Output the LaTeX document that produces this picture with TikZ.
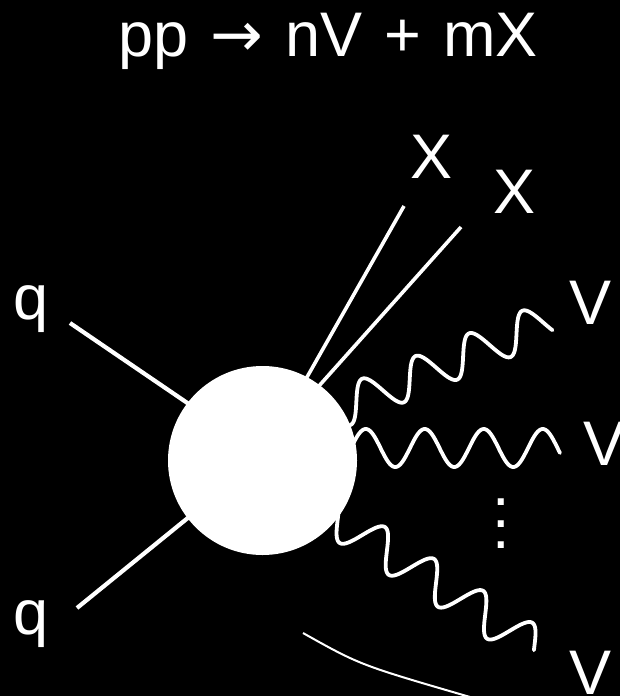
\documentclass[tikz,border=0pt]{standalone}
\usepackage{fontspec}
\setmainfont{Liberation Sans}
\newfontfamily\arrowfont{DejaVu Sans}
\begin{document}
\begin{tikzpicture}[x=1bp,y=-1bp,
  lbl/.style={text=white, font=\fontsize{63bp}{75bp}\selectfont, inner sep=0pt, anchor=base},
  leg/.style={draw=white, line width=4.2bp},
  wave/.style={draw=white, line width=3.8bp, line join=round, line cap=round},
  blob/.style={circle, fill=white, minimum size=189bp, inner sep=0pt}]
\fill[black] (0,0) rectangle (620,696);
\useasboundingbox (0,0) rectangle (620,696);
\clip (0,0) rectangle (620,696);
% labels
\node[lbl] (title) at (328,57) {\spaceskip=22bp pp {\arrowfont →} nV + mX};
\node[lbl] (q1) at (31,319) {q};
\node[lbl] (q2) at (31,634) {q};
\node[lbl] (x1) at (432,178) {X};
\node[lbl] (x2) at (515,213) {X};
\node[lbl] (v1) at (591,324) {V};
\node[lbl] (v2) at (604.5,465) {V};
\node[lbl] (v3) at (591,694) {V};
\node[text=white, font=\fontsize{63bp}{21.4bp}\selectfont, inner sep=0pt, align=center] (dots) at (501,523.7) {.\\.\\.};
% coordinates
\coordinate (c) at (262.5,460.5);
\coordinate (q1e) at (70,323);
\coordinate (q1i) at (205,415);
\coordinate (q2e) at (77,608);
\coordinate (q2i) at (205,504);
\coordinate (x1e) at (404,206);
\coordinate (x1i) at (298,393);
\coordinate (x2e) at (461,227);
\coordinate (x2i) at (310,396);
\coordinate (w1s) at (355,402.4);
\coordinate (w2s) at (351,448);
\coordinate (w3s) at (374.6,543);
\coordinate (a1) at (303,633);
\coordinate (a2) at (470,697);
% straight legs
\draw[leg] (q1e) -- (q1i);
\draw[leg] (q2e) -- (q2i);
\draw[leg, line width=3.6bp] (x1e) -- (x1i);
\draw[leg, line width=3.6bp] (x2e) -- (x2i);
% wavy legs
\begin{scope}[shift={(w1s)}, rotate=23]
\draw[wave] plot[domain=-30:210, samples=241, smooth] (\x, {-19*sin(\x*6.2069 - 9)});
\end{scope}
\begin{scope}[shift={(w2s)}]
\draw[wave] plot[domain=-30:209, samples=241, smooth] (\x, {-19*sin(\x*6.1017)});
\end{scope}
\begin{scope}[shift={(w3s)}, rotate=-33]
\draw[wave] plot[domain=-62:192, samples=255, smooth] (\x, {-19*sin(\x*6.1433 + 90)});
\end{scope}
% blob
\node[blob] (blob) at (c) {};
% arc
\draw[white, line width=2bp] (a1) .. controls (360,665) .. (a2);
\end{tikzpicture}
\end{document}
